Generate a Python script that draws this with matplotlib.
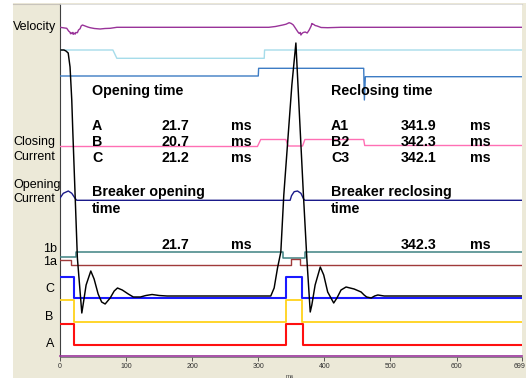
import matplotlib
matplotlib.use("Agg")
import matplotlib.pyplot as plt
from matplotlib.patches import Rectangle
from matplotlib.lines import Line2D
from matplotlib.transforms import ScaledTranslation

plt.rcParams["font.family"] = ["Liberation Sans", "DejaVu Sans"]

# ---------------------------------------------------------------- data
T_MAX = 699
xticks = [0, 100, 200, 300, 400, 500, 600, 699]
xtick_labels = ["0", "100", "200", "300", "400", "500", "600", "699"]

# contact channels: switching times (ms) and trace levels (steps-post)
A_t = [0, 21.7, 341.9, 367.5, T_MAX]
A_v = [33, 12, 33, 12, 12]
B_t = [0, 20.7, 342.3, 366.0, T_MAX]
B_v = [57, 35.3, 57, 35.3, 35.3]
C_t = [0, 21.2, 342.1, 365.5, T_MAX]
C_v = [80.3, 58.7, 80.3, 58.7, 58.7]
aux1a_t = [0, 16.7, 350.0, 363.5, T_MAX]
aux1a_v = [97, 91.7, 97.7, 91.7, 91.7]
aux1b_t = [0, 24.3, 337.5, 370.5, T_MAX]
aux1b_v = [100, 105.3, 98.7, 105.3, 105.3]

# analogue channels: sample times (ms) and trace levels
vel_t = [0, 10.2, 13, 15.2, 16, 17, 18.5, 19.5, 20.2, 22, 23, 24, 26.3, 28,
         30.4, 32, 33.9, 36, 38, 42, 45.6, 52, 60.7, 68, 75.9, 86.1, 200,
         316, 326, 337, 342, 346.7, 350, 353, 356, 358, 360, 362, 363.5,
         364.5, 366, 368, 371, 374, 377, 380, 381, 382.2, 384, 386, 389,
         395, 405, 425, T_MAX]
vel_v = [329.7, 328.7, 326, 324.7, 323.2, 324.2, 323.3, 324.6, 322.7, 323.8,
         322.9, 324.5, 324.3, 327, 328.3, 331, 332, 331.5, 331, 330, 329.3,
         328.5, 328, 328.5, 328.7, 329.7, 329.7, 329.7, 330.5, 332, 332.8,
         334.3, 333.5, 332, 329, 327, 325, 323.5, 324.6, 322, 323.5, 324.5,
         325, 324, 327, 331, 333.5, 333, 332.5, 331.5, 331, 329.5, 329.3,
         329.7, 329.7]

cyan_t = [0, 80, 86, 309, 309.5, T_MAX]
cyan_v = [307, 307, 298.7, 298.7, 307, 307]

blue_t = [0, 300, 300.5, 459.5, 460.5, 462, T_MAX]
blue_v = [281, 281, 288.7, 288.7, 257, 280.3, 280.3]

close_t = [0, 298.7, 303.7, 341.7, 345.2, 367, 370.5, 459.5, 461, T_MAX]
close_v = [210.5, 210.5, 217.5, 217.5, 211, 211, 217.5, 217.5, 211.5, 211.5]

open_t = [0, 1.5, 5, 12.6, 17.8, 22.8, 25.4, 348.2, 350.3, 354.3, 359.4,
          364.5, 368.6, 370.5, T_MAX]
open_v = [159, 160.3, 163.7, 166, 163.7, 158.7, 156.7, 156.7, 161.3, 165.3,
          166, 163.7, 158, 156.7, 156.7]

travel_t = [0, 6, 9, 12.4, 15.2, 17.8, 19.3, 26.3, 33.0, 34.9, 39.5, 46.6,
            51.6, 57.7, 63, 68.3, 75.9, 82, 87, 94.2, 103.3, 110.9, 121.5,
            130, 139.3, 150, 162, 182, 318.9, 324, 329.1, 334.1, 338.6,
            345.8, 350.8, 356.9, 363.4, 368.3, 373.6, 378.6, 381, 386,
            393.8, 399, 405, 414.1, 419, 425.2, 432.8, 445, 455.6, 460.1,
            464, 470.8, 476, 480.9, 490.5, T_MAX]
travel_v = [307, 307, 306, 304, 290, 257, 227, 99, 44, 52, 72, 86, 78, 63,
            55, 53, 59, 66, 69, 67, 63, 60, 60, 61.5, 62.5, 61.5, 61, 61,
            61, 69, 89, 105, 162, 227, 272, 314, 227, 162, 97, 45, 52, 72,
            90, 82, 65, 54, 59, 67, 70, 68, 65, 62, 60, 59, 61, 62, 61, 61]

bottom_t = [0, T_MAX]
bottom_v = [0.7, 0.7]

# ---------------------------------------------------------------- figure
W, H, DPI = 526, 379, 100
fig = plt.figure(figsize=(W / DPI, H / DPI), dpi=DPI, facecolor="white")


def fpos(px, py):
    return px / W, 1 - py / H


# beige frame behind the plotting area
fig.patches.append(Rectangle(fpos(13, 378), (W - 13) / W, 375 / H,
                             transform=fig.transFigure, facecolor="#ECE9D8",
                             edgecolor="none", zorder=-2))
fig.lines.append(Line2D([13 / W, 522 / W], [1 - 3.5 / H, 1 - 3.5 / H],
                        transform=fig.transFigure, color="#c8c4bc", lw=0.8,
                        zorder=-1))

ax = fig.add_axes([60 / W, 1 - 357 / H, (522 - 60) / W, (357 - 4) / H])
ax.set_zorder(1)
ax.set_facecolor("white")
ax.set_xlim(0, T_MAX)
ax.set_ylim(0, 353)

ax.spines["right"].set_visible(False)
ax.spines["top"].set_color("#d8d8d8")
ax.spines["top"].set_linewidth(0.6)
ax.spines["left"].set_color("#404040")
ax.spines["left"].set_linewidth(0.8)
ax.spines["bottom"].set_color("#707070")
ax.spines["bottom"].set_linewidth(0.6)

ax.set_yticks([])
ax.set_xticks(xticks)
ax.set_xticklabels(xtick_labels)
ax.tick_params(axis="x", length=3, width=0.6, color="#404040", pad=1.2,
               labelsize=5, labelcolor="#303030")
last = ax.get_xticklabels()[-1]
last.set_transform(last.get_transform()
                   + ScaledTranslation(-2.5 / DPI, 0, fig.dpi_scale_trans))

# traces
ax.plot(vel_t, vel_v, color="#993399", lw=1.0, zorder=3)
ax.plot(cyan_t, cyan_v, color="#a6dcea", lw=1.0, zorder=3)
ax.plot(blue_t, blue_v, color="#3d7cc4", lw=1.0, zorder=3)
ax.plot(close_t, close_v, color="#ff6fb4", lw=1.0, zorder=3)
ax.plot(open_t, open_v, color="#1a1a8a", lw=1.0, zorder=3)
ax.plot(aux1b_t, aux1b_v, color="#3f8282", lw=1.1, drawstyle="steps-post", zorder=3)
ax.plot(aux1a_t, aux1a_v, color="#a03a3a", lw=1.0, drawstyle="steps-post", zorder=3)
ax.plot(C_t, C_v, color="#1a1aff", lw=1.5, drawstyle="steps-post", zorder=3)
ax.plot(B_t, B_v, color="#ffd21a", lw=1.3, drawstyle="steps-post", zorder=3)
ax.plot(A_t, A_v, color="#ff1010", lw=1.5, drawstyle="steps-post", zorder=3)
ax.plot(bottom_t, bottom_v, color="#993399", lw=1.2, zorder=3, clip_on=False)
ax.plot(travel_t, travel_v, color="black", lw=1.05, zorder=4)

# annotation block
bold = dict(fontsize=10.3, fontweight="bold", color="black", va="baseline",
            ha="left", zorder=5)
col_lbl_l, col_num_l, col_ms_l = 48.6, 153.4, 258.2
col_lbl_r, col_num_r, col_ms_r = 410.0, 514.8, 619.6
row_title, row_a, row_b, row_c = 262, 227.3, 211, 195.3
row_brk1, row_brk2, row_brk_val = 161, 144, 108

ax.text(col_lbl_l, row_title, "Opening time", **bold)
ax.text(col_lbl_r, row_title, "Reclosing time", **bold)
for y, lab_l, val_l, lab_r, val_r in [
        (row_a, "A", "21.7", "A1", "341.9"),
        (row_b, "B", "20.7", "B2", "342.3"),
        (row_c, "C", "21.2", "C3", "342.1")]:
    ax.text(col_lbl_l, y, lab_l, **bold)
    ax.text(col_num_l, y, val_l, **bold)
    ax.text(col_ms_l, y, "ms", **bold)
    ax.text(col_lbl_r, y, lab_r, **bold)
    ax.text(col_num_r, y, val_r, **bold)
    ax.text(col_ms_r, y, "ms", **bold)

ax.text(col_lbl_l, row_brk1, "Breaker opening", **bold)
ax.text(col_lbl_l, row_brk2, "time", **bold)
ax.text(col_num_l, row_brk_val, "21.7", **bold)
ax.text(col_ms_l, row_brk_val, "ms", **bold)
ax.text(col_lbl_r, row_brk1, "Breaker reclosing", **bold)
ax.text(col_lbl_r, row_brk2, "time", **bold)
ax.text(col_num_r, row_brk_val, "342.3", **bold)
ax.text(col_ms_r, row_brk_val, "ms", **bold)

# channel names in the left margin
side = dict(fontsize=9, color="black", va="baseline")
fig.text(*fpos(13, 30), "Velocity", ha="left", **side)
fig.text(*fpos(13, 145), "Closing", ha="left", **side)
fig.text(*fpos(13, 159.5), "Current", ha="left", **side)
fig.text(*fpos(13, 188), "Opening", ha="left", **side)
fig.text(*fpos(13, 202), "Current", ha="left", **side)
fig.text(*fpos(57, 252), "1b", ha="right", **side)
fig.text(*fpos(57, 265), "1a", ha="right", **side)
fig.text(*fpos(45, 292), "C", ha="left", **side)
fig.text(*fpos(45, 320), "B", ha="left", **side)
fig.text(*fpos(46, 347), "A", ha="left", **side)

fig.text(*fpos(290, 377.5), "ms", ha="center", va="baseline", fontsize=4.5,
         color="#404040")

fig.savefig("out.png", dpi=DPI, facecolor="white")
